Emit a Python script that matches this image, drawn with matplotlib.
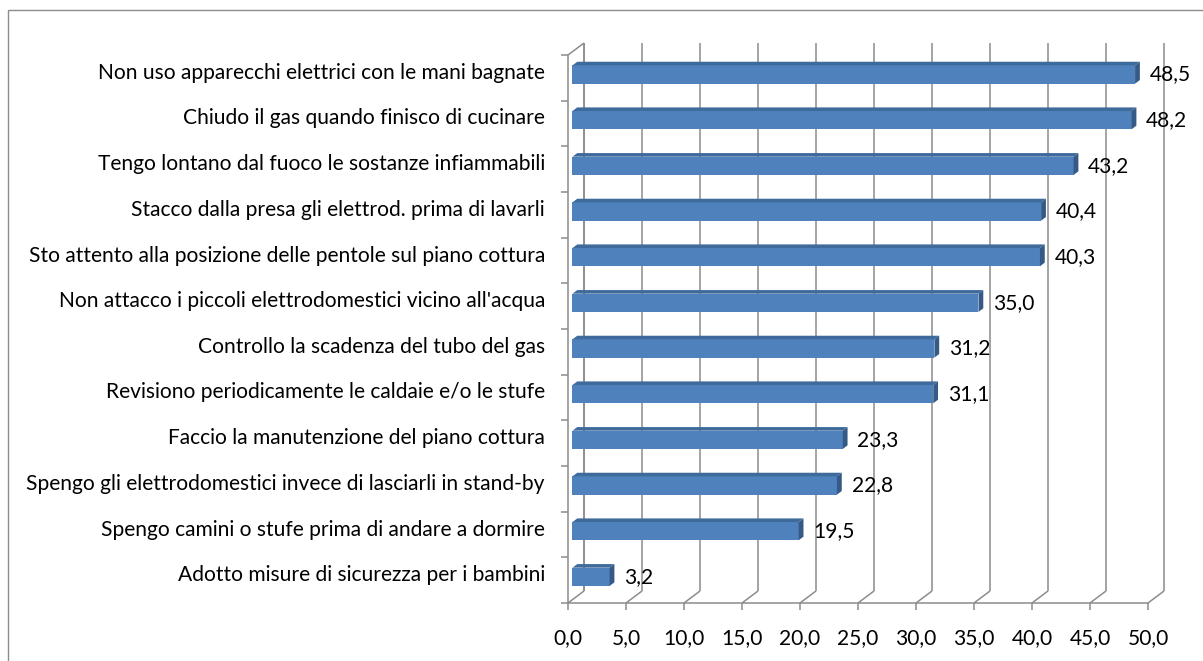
import matplotlib
matplotlib.use("Agg")
import matplotlib.pyplot as plt
from matplotlib.patches import Polygon, Rectangle

categories = [
    "Non uso apparecchi elettrici con le mani bagnate",
    "Chiudo il gas quando finisco di cucinare",
    "Tengo lontano dal fuoco le sostanze infiammabili",
    "Stacco dalla presa gli elettrod. prima di lavarli",
    "Sto attento alla posizione delle pentole sul piano cottura",
    "Non attacco i piccoli elettrodomestici vicino all'acqua",
    "Controllo la scadenza del tubo del gas",
    "Revisiono periodicamente le caldaie e/o le stufe",
    "Faccio la manutenzione del piano cottura",
    "Spengo gli elettrodomestici invece di lasciarli in stand-by",
    "Spengo camini o stufe prima di andare a dormire",
    "Adotto misure di sicurezza per i bambini",
]
values = [48.5, 48.2, 43.2, 40.4, 40.3, 35.0, 31.2, 31.1, 23.3, 22.8, 19.5, 3.2]
xticks = [0, 5, 10, 15, 20, 25, 30, 35, 40, 45, 50]

FONT = "Lato"
FS = 15.1
GRID = "#8c8c8c"
FRONT = "#4f81bd"
TOP = "#3e6a9c"
SIDE = "#365a86"

W, H = 1203, 661
fig = plt.figure(figsize=(W / 100, H / 100), dpi=100)
fig.patch.set_facecolor("white")

# outer chart frame
fig.add_artist(Rectangle((8 / W, -0.1), 1.2, (H - 10) / H + 0.1,
                         transform=fig.transFigure, fill=False,
                         edgecolor="#8c8c8c", lw=1.0))

# front plane of the 3D plot area
x0, x1 = 568, 1148
y_top, y_bot = 55, 603
ax = fig.add_axes([x0 / W, (H - y_bot) / H, (x1 - x0) / W, (y_bot - y_top) / H])
n = len(categories)
ax.set_xlim(0, 50)
ax.set_ylim(n, 0)
ax.set_facecolor("none")

# depth of the 3D box in data units (16 px right, 12 px up)
px_x = (x1 - x0) / 50.0
px_y = (y_bot - y_top) / n
DX = 16 / px_x
DY = 12 / px_y

kw = dict(color=GRID, lw=1.1, clip_on=False, zorder=1, solid_capstyle="butt")
# back wall gridlines and floor diagonals
for t in xticks:
    ax.plot([t + DX, t + DX], [n - DY, -DY], **kw)
    ax.plot([t, t + DX], [n, n - DY], **kw)
# left wall
ax.plot([DX, DX], [n - DY, -DY], **kw)
ax.plot([0, DX], [0, -DY], **kw)

for s in ["top", "right"]:
    ax.spines[s].set_visible(False)
for s in ["left", "bottom"]:
    ax.spines[s].set_color(GRID)
    ax.spines[s].set_linewidth(1.1)

ax.set_xticks(xticks)
ax.set_xticklabels([f"{t:.1f}".replace(".", ",") for t in xticks],
                   fontfamily=FONT, fontsize=FS)
ax.set_yticks(range(n + 1))
ax.set_yticklabels([])
ax.tick_params(axis="both", color=GRID, width=1.1, length=5, direction="out")
ax.tick_params(axis="x", pad=13)

# 3D bars
a, b = 0.28, 0.58
h = 0.4
centers = [i + 0.5 for i in range(n)]
bars = ax.barh([c - a * DY for c in centers], values, height=h,
               left=a * DX, color=FRONT, zorder=3, clip_on=False)
for c, v in zip(centers, values):
    yc = c - a * DY
    yt, yb = yc - h / 2, yc + h / 2
    ddx, ddy = (b - a) * DX, (b - a) * DY
    xl, xr = a * DX, v + a * DX
    ax.add_patch(Polygon([(xl, yt), (xr, yt), (xr + ddx, yt - ddy), (xl + ddx, yt - ddy)],
                         closed=True, facecolor=TOP, edgecolor="none",
                         zorder=3, clip_on=False))
    ax.add_patch(Polygon([(xr, yt), (xr, yb), (xr + ddx, yb - ddy), (xr + ddx, yt - ddy)],
                         closed=True, facecolor=SIDE, edgecolor="none",
                         zorder=3, clip_on=False))
    ax.text(v + b * DX + 0.85, yc, f"{v:.1f}".replace(".", ","),
            ha="left", va="center", fontfamily=FONT, fontsize=FS,
            clip_on=False, zorder=4)

# category labels
for c, lab in zip(centers, categories):
    ax.text(-23 / px_x, c - 5 / px_y, lab, ha="right", va="center",
            fontfamily=FONT, fontsize=FS, clip_on=False)

fig.savefig("out.png", dpi=100)
